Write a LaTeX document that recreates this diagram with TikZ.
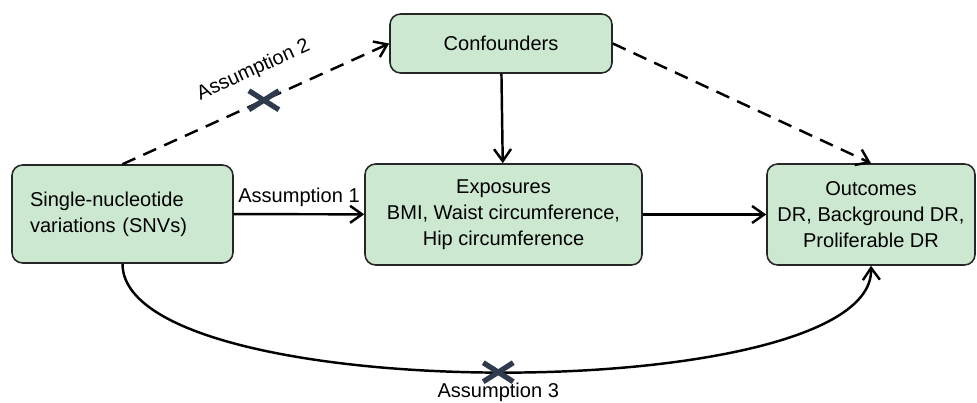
\documentclass[tikz,border=0pt]{standalone}
\usepackage{fontspec}
\setmainfont{Liberation Sans}
\usetikzlibrary{arrows.meta, calc}
\definecolor{boxgreen}{RGB}{205,232,208}
\definecolor{crossgray}{RGB}{47,59,76}

\begin{document}
\begin{tikzpicture}[font=\fontsize{11.4}{14.7}\selectfont,
  box/.style={draw=black!85, line width=0.9pt, fill=boxgreen, rounded corners=6pt, align=center},
  link/.style={line width=1.4pt, -{Straight Barb[length=2.4mm, width=3.4mm]}},
  dashlink/.style={link, dash pattern=on 8pt off 5pt},
  crossline/.style={crossgray, line width=3pt}]
\useasboundingbox (0,0) rectangle (19.54,-8.06);
\path
(10.02,-0.87) node[box, minimum width=4.44cm, minimum height=1.18cm] (conf) {Confounders};
\path
(2.45,-4.28) node[box, text width=3.7cm, inner xsep=0.36cm, align=left, minimum height=1.96cm] (snv) {Single-nucleotide\\variations (SNVs)};
\path
(10.07,-4.29) node[box, minimum width=5.54cm, minimum height=2.02cm] (exp) {Exposures\\BMI, Waist circumference,\\Hip circumference};
\path
(17.42,-4.29) node[box, minimum width=4.16cm, minimum height=2.02cm] (out) {Outcomes\\DR, Background DR,\\Proliferable DR};
\draw[link] (snv) -- node[above] {Assumption 1} (exp);
\draw[link] (conf) -- (exp);
\draw[link] (exp) -- (out);
\draw[dashlink] (snv.north) -- node[pos=0.54, above=0.3cm, sloped] {Assumption 2} coordinate[pos=0.53] (x2) (conf.west);
\draw[dashlink] (conf.east) -- (out.north);
\draw[link] (snv.south) .. controls (2.45,-8.16) and (17.5,-8.16) .. coordinate[pos=0.5] (x3) (out.south);
\path (x3) node[below=0.1cm] (a3) {Assumption 3};
% the two crosses
\foreach \c in {x2, x3} {
  \draw[crossline] ($(\c)+(-0.3,0.19)$) -- ($(\c)+(0.3,-0.19)$);
  \draw[crossline] ($(\c)+(-0.3,-0.19)$) -- ($(\c)+(0.3,0.19)$);
}
\end{tikzpicture}
\end{document}
